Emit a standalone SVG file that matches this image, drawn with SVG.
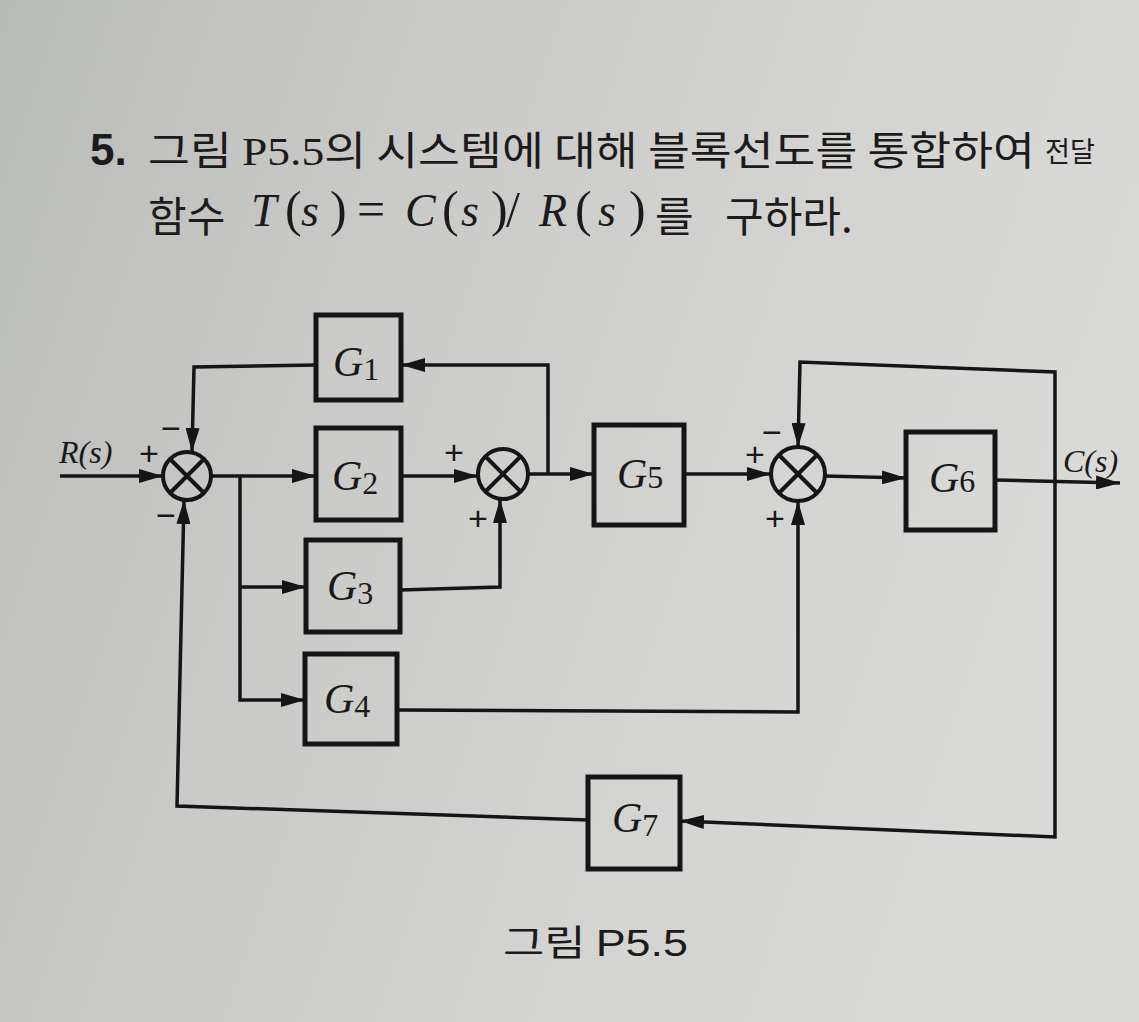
<svg xmlns="http://www.w3.org/2000/svg" width="1139" height="1022" viewBox="0 0 1139 1022">
<defs>
<linearGradient id="bg" x1="0" y1="0" x2="1" y2="0.3">
<stop offset="0" stop-color="#b9bbb9"/>
<stop offset="0.35" stop-color="#c9cac8"/>
<stop offset="0.7" stop-color="#d3d4d2"/>
<stop offset="1" stop-color="#d9d9d7"/>
</linearGradient>
<marker id="arr" viewBox="0 0 24 14" refX="24" refY="7" markerWidth="24" markerHeight="14" markerUnits="userSpaceOnUse" orient="auto">
<path d="M0,0 L24,7 L0,14 z" fill="#161414"/>
</marker>
</defs>
<style>
.blk{fill:none;stroke:#161414;stroke-width:5}
.ln{fill:none;stroke:#161414;stroke-width:3.5}
.sum{fill:none;stroke:#161414;stroke-width:4}
.g{font-family:"Liberation Serif",serif;font-style:italic;font-size:42px;fill:#1a1818}
.sub{font-family:"Liberation Serif",serif;font-size:32px;fill:#1a1818;font-style:normal}
.sg{font-family:"Liberation Sans",sans-serif;font-size:34px;fill:#1a1818}
.lab{font-family:"Liberation Serif",serif;font-style:italic;font-size:32px;fill:#1a1818}
.kr{font-family:"Noto Sans CJK KR",sans-serif;fill:#1c1a1a}
.m{font-family:"Liberation Serif",serif;font-style:italic;font-size:46px}
.mr{font-family:"Liberation Serif",serif;font-style:normal;font-size:50px}
</style>
<rect x="0" y="0" width="1139" height="1022" fill="url(#bg)"/>

<g id="question">
<text x="90" y="165" font-family="Liberation Sans, sans-serif" font-weight="bold" font-size="44" fill="#1c1a1a">5.</text>
<text x="148" y="165" class="kr" font-size="40" textLength="887" lengthAdjust="spacingAndGlyphs">그림 <tspan font-family="Liberation Serif, serif">P5.5</tspan>의 시스템에 대해 블록선도를 통합하여</text>
<text x="1045" y="162" class="kr" font-size="28" textLength="50" lengthAdjust="spacingAndGlyphs">전달</text>
<text x="148" y="232" class="kr" font-size="42">함수</text>
<text y="226" fill="#1c1a1a"><tspan class="m" x="251">T</tspan><tspan class="mr" x="285">(</tspan><tspan class="m" x="301">s</tspan><tspan class="mr" x="330">)</tspan><tspan class="mr" x="357">=</tspan><tspan class="m" x="405">C</tspan><tspan class="mr" x="442">(</tspan><tspan class="m" x="461">s</tspan><tspan class="mr" x="491">)</tspan><tspan class="mr" x="506">/</tspan><tspan class="m" x="539">R</tspan><tspan class="mr" x="575">(</tspan><tspan class="m" x="598">s</tspan><tspan class="mr" x="629">)</tspan></text>
<text y="232" class="kr" font-size="42"><tspan x="655">를</tspan><tspan x="725">구하라.</tspan></text>
</g>

<g id="connectors">
<line class="ln" x1="60" y1="476" x2="163" y2="476" marker-end="url(#arr)"/>
<line class="ln" x1="212" y1="476" x2="316" y2="476" marker-end="url(#arr)"/>
<polyline class="ln" points="240,476 240,700 305,700" marker-end="url(#arr)"/>
<polyline class="ln" points="240,587 306,587" marker-end="url(#arr)"/>
<line class="ln" x1="401" y1="476" x2="478" y2="476" marker-end="url(#arr)"/>
<line class="ln" x1="528" y1="474" x2="594" y2="474" marker-end="url(#arr)"/>
<polyline class="ln" points="548,474 548,365 401,365" marker-end="url(#arr)"/>
<polyline class="ln" points="316,365 194,367 192,452" marker-end="url(#arr)"/>
<polyline class="ln" points="400,590 500,587 500,499" marker-end="url(#arr)"/>
<polyline class="ln" points="397,710 798,712 798,501" marker-end="url(#arr)"/>
<line class="ln" x1="684" y1="474" x2="771" y2="474" marker-end="url(#arr)"/>
<line class="ln" x1="825" y1="476" x2="906" y2="478" marker-end="url(#arr)"/>
<line class="ln" x1="995" y1="480" x2="1120" y2="483" marker-end="url(#arr)"/>
<polyline class="ln" points="1055,481 1055,372 800,362 798,447" marker-end="url(#arr)"/>
<polyline class="ln" points="1055,481 1055,837 680,821" marker-end="url(#arr)"/>
<polyline class="ln" points="588,820 177,806 184,500" marker-end="url(#arr)"/>
</g>

<g id="sum1">
<circle class="sum" cx="187" cy="476" r="24"/>
<line class="sum" x1="170" y1="459" x2="204" y2="493"/>
<line class="sum" x1="204" y1="459" x2="170" y2="493"/>
<text class="sg" x="139" y="465">+</text>
<text class="sg" x="161" y="440">−</text>
<text class="sg" x="156" y="527">−</text>
</g>
<g id="sum2">
<circle class="sum" cx="503" cy="474" r="25"/>
<line class="sum" x1="485" y1="456" x2="521" y2="492"/>
<line class="sum" x1="521" y1="456" x2="485" y2="492"/>
<text class="sg" x="444" y="464">+</text>
<text class="sg" x="468" y="530">+</text>
</g>
<g id="sum3">
<circle class="sum" cx="798" cy="474" r="27"/>
<line class="sum" x1="779" y1="455" x2="817" y2="493"/>
<line class="sum" x1="817" y1="455" x2="779" y2="493"/>
<text class="sg" x="745" y="466">+</text>
<text class="sg" x="762" y="444">−</text>
<text class="sg" x="765" y="530">+</text>
</g>

<g id="G1"><rect class="blk" x="316" y="315" width="85" height="85"/><text class="g" x="333" y="376">G<tspan class="sub" dy="4">1</tspan></text></g>
<g id="G2"><rect class="blk" x="316" y="428" width="85" height="92"/><text class="g" x="332" y="490">G<tspan class="sub" dy="4">2</tspan></text></g>
<g id="G3"><rect class="blk" x="306" y="540" width="94" height="92"/><text class="g" x="327" y="600">G<tspan class="sub" dy="4">3</tspan></text></g>
<g id="G4"><rect class="blk" x="305" y="654" width="92" height="90"/><text class="g" x="324" y="713">G<tspan class="sub" dy="4">4</tspan></text></g>
<g id="G5"><rect class="blk" x="594" y="425" width="90" height="100"/><text class="g" x="617" y="488">G<tspan class="sub" dy="0">5</tspan></text></g>
<g id="G6"><rect class="blk" x="906" y="432" width="89" height="98"/><text class="g" x="929" y="492">G<tspan class="sub" dy="0">6</tspan></text></g>
<g id="G7"><rect class="blk" x="588" y="777" width="92" height="92"/><text class="g" x="612" y="832">G<tspan class="sub" dy="4">7</tspan></text></g>

<g id="labels">
<text class="lab" x="59" y="463">R(s)</text>
<text class="lab" x="1063" y="472" font-size="29">C(s)</text>
</g>

<g id="caption">
<text x="503" y="956" font-family="Noto Sans CJK KR, sans-serif" font-size="36" fill="#1c1a1a" textLength="185" lengthAdjust="spacingAndGlyphs">그림 <tspan font-family="Liberation Sans, sans-serif">P5.5</tspan></text>
</g>
</svg>
